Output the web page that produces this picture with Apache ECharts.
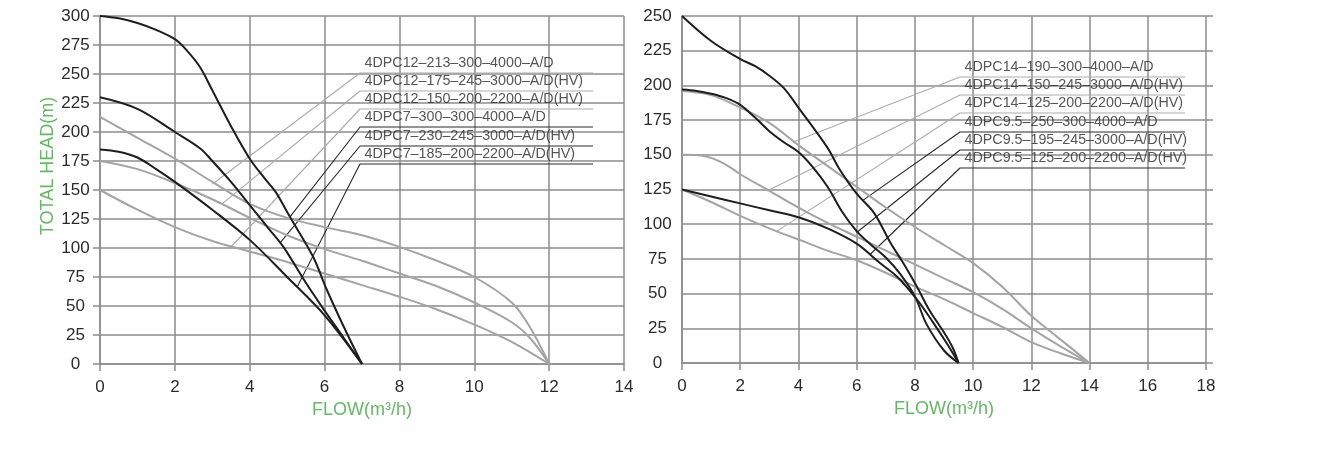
<!DOCTYPE html>
<html><head><meta charset="utf-8">
<script src="https://cdn.jsdelivr.net/npm/echarts/dist/echarts.min.js"></script>
<style>html,body{margin:0;padding:0;background:#fff}#c{width:1343px;height:459px}</style>
</head><body><div id="c"></div>
<script>
// ---------- LEFT CHART DATA ----------
const leftXTicks = [0, 14, 2];     // min, max, step
const leftYTicks = [0, 300, 25];
const leftNames = ['4DPC12–213–300–4000–A/D','4DPC12–175–245–3000–A/D(HV)','4DPC12–150–200–2200–A/D(HV)','4DPC7–300–300–4000–A/D','4DPC7–230–245–3000–A/D(HV)','4DPC7–185–200–2200–A/D(HV)'];

const flow12_213 = [0,1,2,3,4,5,6,7,8,9,10,11,11.5,12];
const head12_213 = [213,195,177,157,138,126,118,111,101,89,75,53,31,0];
const flow12_175 = [0,1,2,3,4,5,6,7,8,9,10,11,11.5,12];
const head12_175 = [175,168,156,142,126,111,99,89,78,67,53,36,22,0];
const flow12_150 = [0,1,2,3,4,5,6,7,8,9,10,11,12];
const head12_150 = [150,133,118,106,97,88,78,68,58,47,34,19,0];
const flow7_300 = [0,0.5,1,1.5,2,2.3,2.67,3,3.5,4,4.4,4.7,5,5.2,5.7,6.06,6.5,7];
const head7_300 = [300,298,294,288,280,271,256,236,205,177,160,148,131,120,92,64,33,0];
const flow7_230 = [0,1,2,2.67,3,3.5,4,4.5,4.9,5.5,6,6.5,7];
const head7_230 = [230,220,200,186,175,157,137,117,101,70,46,23,0];
const flow7_185 = [0,0.5,1,1.5,2,3,4,5,6,7];
const head7_185 = [185,183,178,168,157,133,107,75,42,0];
const leftLeaderEnds = [[3.0,155],[3.26,138],[3.47,100],[5.08,127],[4.8,104],[5.26,66]];

// ---------- RIGHT CHART DATA ----------
const rightXTicks = [0, 18, 2];
const rightYTicks = [0, 250, 25];
const rightNames = ['4DPC14–190–300–4000–A/D','4DPC14–150–245–3000–A/D(HV)','4DPC14–125–200–2200–A/D(HV)','4DPC9.5–250–300–4000–A/D','4DPC9.5–195–245–3000–A/D(HV)','4DPC9.5–125–200–2200–A/D(HV)'];

const flow14_190 = [0,1,2,3,4,5,6,7,8,9,10,11,12,13,14];
const head14_190 = [196,193,184,173,157,142,127,112,98,85,72,55,34,17,0];
const flow14_150 = [0,0.8,1.5,2,3,4,5,6,7,8,9,10,11,12,13,14];
const head14_150 = [150,149,143,136,124,112,101,91,81,71,61,51,39,25,12,0];
const flow14_125 = [0,1,2,3,4,5,6,7,8,9,10,11,12,13,14];
const head14_125 = [125,116,106,97,89,81,74,65,55,46,36,26,15,7,0];
const flow95_250 = [0,1,2,2.5,3,3.5,4,5,5.4,6,6.6,7.15,7.6,8.07,8.5,9,9.3,9.5];
const head95_250 = [250,232,219,214,207,198,184,155,140,122,108,87,72,55,38,22,11,0];
const flow95_195 = [0,0.5,1,1.5,2,2.5,3,3.5,4,4.5,5,5.5,6,6.5,7,7.5,8,8.4,9,9.5];
const head95_195 = [197,196,194,191,186,177,167,159,152,141,127,109,95,85,76,64,48,28,9,0];
const flow95_125 = [0,1,2,3,4,5,6,6.8,7.4,8.1,8.6,9.1,9.5];
const head95_125 = [125,120,115,110,105,97,86,72,62,45,30,14,0];
const rightLeaderEnds = [[3.8,159],[2.92,124],[3.26,95],[6.2,117],[6.0,94],[6.45,78]];

// ---------- STYLE ----------
const GRID = '#8d8d8d', BLACK = '#1e1e1e', GRAY = '#a4a4a4', GREEN = '#66b866', TXT = '#2b2b2b';
const FONT = '"Liberation Sans", Arial, sans-serif';

function pairs(f, h) { return f.map((x, i) => [x, h[i]]); }
function curve(f, h, color, ai) {
  return { type: 'line', xAxisIndex: ai, yAxisIndex: ai, data: pairs(f, h), smooth: 0.35,
    symbol: 'none', lineStyle: { color: color, width: 2 }, silent: true, z: 4 };
}
function xAx(ti, gi, name) {
  return { type: 'value', gridIndex: gi, min: ti[0], max: ti[1], interval: ti[2],
    axisLine: { show: true, lineStyle: { color: GRID, width: 1.5 } },
    axisTick: { show: true, length: 7, lineStyle: { color: GRID, width: 1.5 } },
    axisLabel: { fontSize: 17, color: TXT, margin: 15, fontFamily: FONT },
    splitLine: { show: true, lineStyle: { color: GRID, width: 1.5 } },
    name: name, nameLocation: 'middle', nameGap: 37,
    nameTextStyle: { color: GREEN, fontSize: 18, fontFamily: FONT } };
}
function yAx(ti, gi, tick) {
  return { type: 'value', gridIndex: gi, min: ti[0], max: ti[1], interval: ti[2],
    axisLine: { show: true, lineStyle: { color: GRID, width: 1.5 } },
    axisTick: { show: tick, length: 7, lineStyle: { color: GRID, width: 1.5 } },
    axisLabel: { fontSize: 17, color: TXT, margin: 24.5, align: 'center', fontFamily: FONT },
    splitLine: { show: true, lineStyle: { color: GRID, width: 1.5 } } };
}

const chart = echarts.init(document.getElementById('c'));
const option = {
  animation: false,
  backgroundColor: '#fff',
  grid: [
    { left: 100, top: 16, width: 524, height: 348 },
    { left: 682, top: 16, width: 524, height: 347 }
  ],
  xAxis: [ xAx(leftXTicks, 0, 'FLOW(m³/h)'), xAx(rightXTicks, 1, 'FLOW(m³/h)') ],
  yAxis: [ yAx(leftYTicks, 0, true), yAx(rightYTicks, 1, false),
    { type: 'value', gridIndex: 1, position: 'right', min: rightYTicks[0], max: rightYTicks[1], interval: rightYTicks[2],
      axisLine: { show: false }, axisLabel: { show: false }, splitLine: { show: false },
      axisTick: { show: true, length: 7, lineStyle: { color: GRID, width: 1.5 } } } ],
  graphic: [{ type: 'text', x: 48.5, y: 166, rotation: Math.PI / 2,
    style: { text: 'TOTAL HEAD(m)', fill: GREEN, fontSize: 18, fontFamily: FONT, align: 'center', verticalAlign: 'middle' } }],
  series: [
    curve(flow12_213, head12_213, GRAY, 0),
    curve(flow12_175, head12_175, GRAY, 0),
    curve(flow12_150, head12_150, GRAY, 0),
    curve(flow7_300, head7_300, BLACK, 0),
    curve(flow7_230, head7_230, BLACK, 0),
    curve(flow7_185, head7_185, BLACK, 0),
    curve(flow14_190, head14_190, GRAY, 1),
    curve(flow14_150, head14_150, GRAY, 1),
    curve(flow14_125, head14_125, GRAY, 1),
    curve(flow95_250, head95_250, BLACK, 1),
    curve(flow95_195, head95_195, BLACK, 1),
    curve(flow95_125, head95_125, BLACK, 1)
  ]
};
chart.setOption(option);

// leader lines with labels (layout in pixels, converted through the axes)
function leaders(ai, ends, names, cornerX, endX, ys, dy) {
  const out = [];
  ends.forEach((e, i) => {
    const c = chart.convertFromPixel({ xAxisIndex: ai, yAxisIndex: ai }, [cornerX, ys[i]]);
    const b = chart.convertFromPixel({ xAxisIndex: ai, yAxisIndex: ai }, [endX, ys[i]]);
    const col = i < 3 ? '#ababab' : '#2a2a2a';
    out.push({ type: 'line', xAxisIndex: ai, yAxisIndex: ai, data: [e, c, b], symbol: 'none',
      lineStyle: { color: col, width: 1.1 }, silent: true, z: 3 });
    out.push({ type: 'scatter', xAxisIndex: ai, yAxisIndex: ai, data: [c], symbolSize: 1,
      itemStyle: { color: 'rgba(0,0,0,0)' }, silent: true, z: 5,
      label: { show: true, position: 'right', distance: 4, offset: [0, -dy], formatter: names[i],
        fontSize: 14.3, color: TXT, fontFamily: FONT } });
  });
  return out;
}
const extra = [].concat(
  leaders(0, leftLeaderEnds, leftNames, 360, 593, [73, 91, 109, 127, 146, 164], 10),
  leaders(1, rightLeaderEnds, rightNames, 960, 1185, [77, 95, 113, 132, 150, 168], 9.5)
);
chart.setOption({ series: option.series.concat(extra) });
</script></body></html>
